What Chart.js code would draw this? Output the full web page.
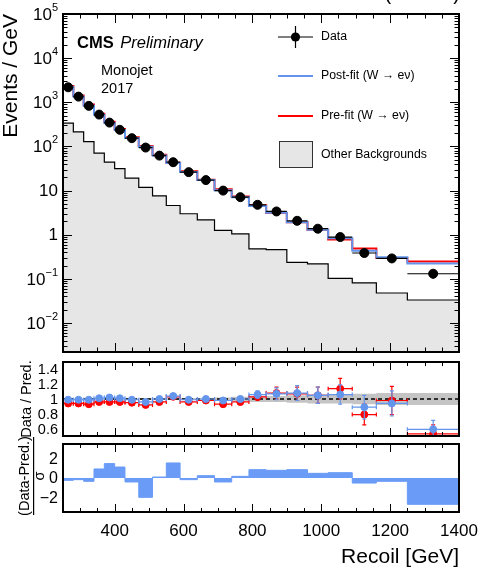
<!DOCTYPE html>
<html>
<head>
<meta charset="utf-8">
<script src="https://cdn.jsdelivr.net/npm/chart.js@4.4.1/dist/chart.umd.min.js"></script>
<style>
  html, body { margin: 0; padding: 0; background: #fff; }
  #wrap { position: relative; width: 481px; height: 569px; }
  canvas { position: absolute; left: 0; top: 0; }
</style>
</head>
<body>
<div id="wrap">
  <canvas id="mainChart" width="481" height="569"></canvas>
  <canvas id="ratioChart" width="481" height="569"></canvas>
  <canvas id="pullChart" width="481" height="569"></canvas>
</div>
<script>
// bin edges of the recoil distribution (GeV)
const edges = [250, 280, 310, 340, 370, 400, 430, 470, 510, 550, 590, 640, 690, 740, 790, 840, 900, 960, 1020, 1090, 1160, 1250, 1400];

// events / GeV
const dataVals = [2190, 1345, 830, 527, 347, 238, 154, 94.4, 62, 44, 26.2, 17.3, 10.0, 7.1, 4.77, 3.37, 2.07, 1.37, 0.887, 0.386, 0.291, 0.131];
const dataErr = [8.5, 6.7, 5.3, 4.2, 3.4, 2.8, 2, 1.5, 1.2, 1, 0.7, 0.6, 0.45, 0.38, 0.3, 0.24, 0.19, 0.15, 0.11, 0.07, 0.057, 0.03];
const postFit = [2210, 1360, 838, 522, 340, 236, 156, 98.3, 62, 42.3, 26.5, 17.3, 10.2, 7.1, 4.5, 3.15, 1.92, 1.30, 0.837, 0.434, 0.31, 0.222];
const preFit = [2330, 1431, 892, 549, 361, 248, 162, 102.6, 64.6, 42.7, 27.3, 17.65, 10.75, 7.4, 4.63, 3.12, 1.93, 1.30, 0.778, 0.489, 0.297, 0.247];
const otherBkg = [336, 214, 129, 70.5, 44, 31.6, 19.2, 11.8, 7.6, 4.6, 2.99, 2.18, 1.25, 1.05, 0.48, 0.46, 0.236, 0.22, 0.103, 0.081, 0.048, 0.0333];

// data / prediction
const ratioPost = [0.99, 0.99, 0.99, 1.01, 1.02, 1.01, 0.99, 0.96, 1.0, 1.04, 0.99, 1.0, 0.98, 1.0, 1.06, 1.07, 1.08, 1.05, 1.06, 0.89, 0.94, 0.59];
const ratioPostErr = [0.01, 0.01, 0.01, 0.01, 0.01, 0.01, 0.015, 0.015, 0.02, 0.02, 0.02, 0.025, 0.03, 0.035, 0.05, 0.08, 0.1, 0.11, 0.13, 0.16, 0.17, 0.12];
const ratioPre = [0.94, 0.94, 0.93, 0.96, 0.96, 0.96, 0.95, 0.92, 0.96, 1.03, 0.96, 0.98, 0.93, 0.96, 1.03, 1.08, 1.07, 1.05, 1.14, 0.79, 0.98, 0.53];
const ratioPreErr = [0.01, 0.01, 0.01, 0.01, 0.01, 0.01, 0.015, 0.015, 0.02, 0.02, 0.02, 0.025, 0.03, 0.035, 0.05, 0.08, 0.09, 0.11, 0.14, 0.14, 0.19, 0.12];
const bandErr = [0.01, 0.01, 0.01, 0.01, 0.01, 0.01, 0.01, 0.01, 0.012, 0.012, 0.015, 0.015, 0.02, 0.03, 0.04, 0.04, 0.05, 0.06, 0.06, 0.07, 0.08, 0.08];

// (data - pred) / sigma
const pulls = [-0.24, -0.17, -0.34, 0.93, 1.48, 1.13, -0.41, -1.99, 0.1, 1.55, -0.17, 0.24, -0.41, 0.17, 0.86, 0.79, 0.86, 0.48, 0.55, -0.52, -0.34, -2.71];

// tick labels
const xTicks = [400, 600, 800, 1000, 1200, 1400];
const mainYTicks = [1e-2, 1e-1, 1, 10, 1e2, 1e3, 1e4, 1e5];
const mainYLabels = [['10', '−2'], ['10', '−1'], ['1', ''], ['10', ''], ['10', '2'], ['10', '3'], ['10', '4'], ['10', '5']];
const ratioYTicks = [0.6, 0.8, 1, 1.2, 1.4];
const ratioYLabels = ['0.6', '0.8', '1', '1.2', '1.4'];
const pullYTicks = [-2, 0, 2];
const pullYLabels = ['−2', '0', '2'];

const FONT = '"Liberation Sans", Arial, Helvetica, sans-serif';
const BLUE = '#6495ED';
const RED = '#ff0000';
const W = 481, H = 569;

const centers = edges.slice(0, -1).map((e, i) => (e + edges[i + 1]) / 2);
const stepPoints = (vals) => edges.map((x, i) => ({ x: x, y: vals[Math.min(i, vals.length - 1)] }));
const markerPoints = (vals) => centers.map((x, i) => ({ x: x, y: vals[i] }));

// error bars drawn right before their own dataset's markers
const errorBars = {
  id: 'errorBars',
  beforeDatasetDraw(chart, args) {
    const ds = chart.data.datasets[args.index];
    if (!ds.errY) return;
    const { ctx, chartArea, scales } = chart;
    ctx.save();
    ctx.beginPath();
    ctx.rect(chartArea.left, chartArea.top, chartArea.width, chartArea.height);
    ctx.clip();
    ctx.strokeStyle = ds.errColor;
    ctx.lineWidth = ds.errWidth || 1.2;
    ds.data.forEach((p, i) => {
      const x0 = scales.x.getPixelForValue(edges[i]);
      const x1 = scales.x.getPixelForValue(edges[i + 1]);
      const xc = scales.x.getPixelForValue(p.x);
      const yc = scales.y.getPixelForValue(p.y);
      const ylo = scales.y.getPixelForValue(p.y - ds.errY[i]);
      const yhi = scales.y.getPixelForValue(p.y + ds.errY[i]);
      ctx.beginPath();
      ctx.moveTo(x0, yc); ctx.lineTo(x1, yc);
      ctx.moveTo(xc, ylo); ctx.lineTo(xc, yhi);
      ctx.stroke();
      if (ds.errCaps) {
        ctx.beginPath();
        ctx.moveTo(xc - 2, ylo); ctx.lineTo(xc + 2, ylo);
        ctx.moveTo(xc - 2, yhi); ctx.lineTo(xc + 2, yhi);
        ctx.moveTo(x0, yc - 2); ctx.lineTo(x0, yc + 2);
        ctx.moveTo(x1, yc - 2); ctx.lineTo(x1, yc + 2);
        ctx.stroke();
      }
    });
    ctx.restore();
  }
};

// frame with inward ROOT-style ticks
const makeFrame = (major, minor, logY) => ({
  id: 'frame',
  afterDatasetsDraw(chart) {
    const { ctx, chartArea: a, scales } = chart;
    ctx.save();
    ctx.strokeStyle = '#000';
    ctx.lineWidth = 1;
    ctx.beginPath();
    for (let v = 250; v <= 1400; v += 50) {
      const x = Math.round(scales.x.getPixelForValue(v)) + 0.5;
      const len = v % 200 === 0 ? major : minor;
      ctx.moveTo(x, a.bottom); ctx.lineTo(x, a.bottom - len);
      ctx.moveTo(x, a.top); ctx.lineTo(x, a.top + len);
    }
    if (logY) {
      for (let e = -3; e <= 5; e++) {
        for (let k = 1; k <= 9; k++) {
          const v = k * Math.pow(10, e);
          if (v < scales.y.min || v > scales.y.max) continue;
          const y = Math.round(scales.y.getPixelForValue(v)) + 0.5;
          const len = k === 1 ? major : minor;
          ctx.moveTo(a.left, y); ctx.lineTo(a.left + len, y);
          ctx.moveTo(a.right, y); ctx.lineTo(a.right - len, y);
        }
      }
    }
    ctx.stroke();
    ctx.lineWidth = 2;
    ctx.strokeRect(a.left, a.top, a.right - a.left, a.bottom - a.top);
    ctx.restore();
  }
});

const baseOptions = (pad, y) => ({
  responsive: false,
  animation: false,
  events: [],
  layout: { padding: pad },
  scales: {
    x: { type: 'linear', min: 250, max: 1400, display: false },
    y: Object.assign({ display: false }, y)
  },
  plugins: { legend: { display: false }, tooltip: { enabled: false } }
});

// ---------- main panel ----------
const mainText = {
  id: 'mainText',
  afterDraw(chart) {
    const { ctx, scales } = chart;
    ctx.save();
    ctx.fillStyle = '#000';
    ctx.textBaseline = 'middle';
    mainYTicks.forEach((v, i) => {
      const y = scales.y.getPixelForValue(v);
      const [base, exp] = mainYLabels[i];
      ctx.font = '11px ' + FONT;
      const ew = exp ? ctx.measureText(exp).width : 0;
      ctx.font = '17px ' + FONT;
      const bw = ctx.measureText(base).width;
      ctx.textAlign = 'left';
      ctx.fillText(base, 58 - ew - bw, y + 1);
      if (exp) {
        ctx.font = '11px ' + FONT;
        ctx.fillText(exp, 58 - ew, y - 6);
      }
    });
    // y title
    ctx.save();
    ctx.translate(11, 14);
    ctx.rotate(-Math.PI / 2);
    ctx.font = '21px ' + FONT;
    ctx.textAlign = 'right';
    ctx.fillText('Events / GeV', 0, 0);
    ctx.restore();
    // top right lumi label (mostly outside the page)
    ctx.font = '20px ' + FONT;
    ctx.textAlign = 'right';
    ctx.textBaseline = 'alphabetic';
    ctx.fillText('41.5 fb⁻¹ (13 TeV)', 460, 0);
    // CMS label
    ctx.textAlign = 'left';
    ctx.font = 'bold 16.5px ' + FONT;
    ctx.fillText('CMS', 77, 48);
    const cw = ctx.measureText('CMS ').width;
    ctx.font = 'italic 16.5px ' + FONT;
    ctx.fillText('Preliminary', 77 + cw + 2, 48);
    ctx.font = '14.5px ' + FONT;
    ctx.fillText('Monojet', 101, 75);
    ctx.fillText('2017', 101, 93);
    // legend
    ctx.textBaseline = 'middle';
    ctx.font = '12.3px ' + FONT;
    ctx.strokeStyle = '#000';
    ctx.lineWidth = 1.2;
    ctx.beginPath();
    ctx.moveTo(278, 37); ctx.lineTo(313, 37);
    ctx.moveTo(295.5, 26); ctx.lineTo(295.5, 48);
    ctx.stroke();
    ctx.beginPath();
    ctx.arc(295.5, 37, 4.6, 0, Math.PI * 2);
    ctx.fill();
    ctx.fillText('Data', 321, 37);
    ctx.lineWidth = 2;
    ctx.strokeStyle = BLUE;
    ctx.beginPath(); ctx.moveTo(278, 76); ctx.lineTo(313, 76); ctx.stroke();
    ctx.fillText('Post-fit (W → eν)', 321, 76);
    ctx.strokeStyle = RED;
    ctx.beginPath(); ctx.moveTo(278, 116); ctx.lineTo(313, 116); ctx.stroke();
    ctx.fillText('Pre-fit (W → eν)', 321, 116);
    ctx.fillStyle = '#e6e6e6';
    ctx.fillRect(279, 141, 33, 26);
    ctx.strokeStyle = '#333';
    ctx.lineWidth = 1;
    ctx.strokeRect(279.5, 141.5, 33, 26);
    ctx.fillStyle = '#000';
    ctx.fillText('Other Backgrounds', 321, 155);
    ctx.restore();
  }
};

// lower "order" is drawn on top
new Chart(document.getElementById('mainChart'), {
  type: 'line',
  data: {
    datasets: [
      { order: 4, data: stepPoints(otherBkg), stepped: true, borderColor: '#000', borderWidth: 1.2, backgroundColor: '#e6e6e6', fill: 'start', pointRadius: 0 },
      { order: 3, data: stepPoints(preFit), stepped: true, borderColor: RED, borderWidth: 2, fill: false, pointRadius: 0 },
      { order: 2, data: stepPoints(postFit), stepped: true, borderColor: BLUE, borderWidth: 2, fill: false, pointRadius: 0 },
      { order: 1, data: markerPoints(dataVals), showLine: false, pointRadius: 4.5, pointBackgroundColor: '#000', pointBorderColor: '#000', errY: dataErr, errColor: '#000', errWidth: 1.2 }
    ]
  },
  options: baseOptions({ left: 63, right: W - 459, top: 14, bottom: H - 352 }, { type: 'logarithmic', min: 0.00221, max: 1e5 }),
  plugins: [errorBars, makeFrame(9, 4.5, true), mainText]
});

// ---------- ratio panel ----------
const ratioText = {
  id: 'ratioText',
  afterDraw(chart) {
    const { ctx, scales } = chart;
    ctx.save();
    ctx.fillStyle = '#000';
    ctx.textBaseline = 'middle';
    ctx.textAlign = 'right';
    ctx.font = '14.5px ' + FONT;
    ratioYTicks.forEach((v, i) => ctx.fillText(ratioYLabels[i], 58, scales.y.getPixelForValue(v) + 1));
    ctx.translate(27, 399);
    ctx.rotate(-Math.PI / 2);
    ctx.textAlign = 'center';
    ctx.font = '14.5px ' + FONT;
    ctx.fillText('Data / Pred.', 0, 0);
    ctx.restore();
  }
};

new Chart(document.getElementById('ratioChart'), {
  type: 'line',
  data: {
    datasets: [
      { order: 5, data: stepPoints(bandErr.map(e => 1 - e)), stepped: true, borderWidth: 0, pointRadius: 0, fill: false },
      { order: 4, data: stepPoints(bandErr.map(e => 1 + e)), stepped: true, borderWidth: 0, pointRadius: 0, fill: '-1', backgroundColor: '#c4c4c4' },
      { order: 3, data: [{ x: 250, y: 1 }, { x: 1400, y: 1 }], borderColor: '#000', borderWidth: 1.5, borderDash: [4, 3], pointRadius: 0, fill: false },
      { order: 2, data: markerPoints(ratioPre), showLine: false, pointRadius: 3.5, pointBackgroundColor: RED, pointBorderColor: RED, errY: ratioPreErr, errColor: RED, errWidth: 1.2, errCaps: true },
      { order: 1, data: markerPoints(ratioPost), showLine: false, pointRadius: 3.5, pointBackgroundColor: BLUE, pointBorderColor: BLUE, errY: ratioPostErr, errColor: BLUE, errWidth: 1.2, errCaps: true }
    ]
  },
  options: baseOptions({ left: 63, right: W - 459, top: 362, bottom: H - 436 }, { type: 'linear', min: 0.5, max: 1.5 }),
  plugins: [errorBars, makeFrame(8, 4, false), ratioText]
});

// ---------- pull panel ----------
const pullText = {
  id: 'pullText',
  afterDraw(chart) {
    const { ctx, scales } = chart;
    ctx.save();
    ctx.fillStyle = '#000';
    ctx.textBaseline = 'middle';
    ctx.textAlign = 'right';
    ctx.font = '16px ' + FONT;
    pullYTicks.forEach((v, i) => ctx.fillText(pullYLabels[i], 58, scales.y.getPixelForValue(v) + 1));
    ctx.textAlign = 'center';
    ctx.textBaseline = 'alphabetic';
    ctx.font = '17px ' + FONT;
    xTicks.forEach(v => ctx.fillText(String(v), scales.x.getPixelForValue(v), 536));
    ctx.textAlign = 'right';
    ctx.font = '21px ' + FONT;
    ctx.fillText('Recoil [GeV]', 459, 563);
    // fraction title
    ctx.save();
    ctx.translate(25, 476);
    ctx.rotate(-Math.PI / 2);
    ctx.textAlign = 'center';
    ctx.textBaseline = 'middle';
    ctx.font = '14.5px ' + FONT;
    ctx.fillText('(Data-Pred.)', 0, 0);
    ctx.fillRect(-39, 8, 78, 1.2);
    ctx.fillText('σ', 0, 15);
    ctx.restore();
    ctx.restore();
  }
};

new Chart(document.getElementById('pullChart'), {
  type: 'line',
  data: {
    datasets: [
      { data: stepPoints(pulls), stepped: true, borderColor: '#6a9cf7', borderWidth: 1, backgroundColor: '#6a9cf7', fill: 'origin', pointRadius: 0 }
    ]
  },
  options: baseOptions({ left: 63, right: W - 459, top: 444, bottom: H - 512 }, { type: 'linear', min: -3.5, max: 3.5 }),
  plugins: [makeFrame(8, 4, false), pullText]
});
</script>
</body>
</html>
